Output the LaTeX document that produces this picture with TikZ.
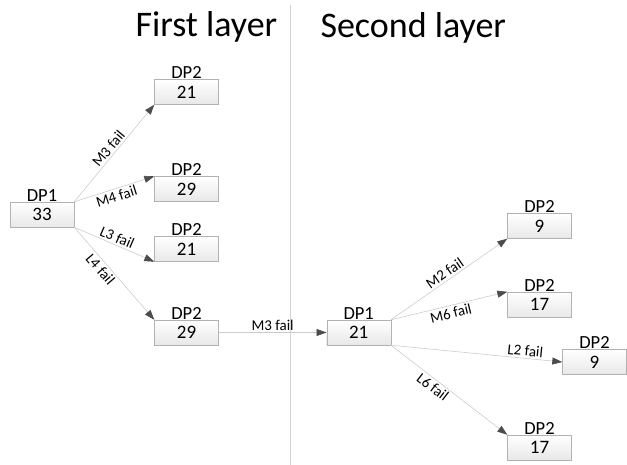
\documentclass[tikz,border=0pt]{standalone}
\usepackage{fontspec}
\setmainfont{Carlito}
\usetikzlibrary{arrows.meta}

\begin{document}
\begin{tikzpicture}[x=1pt,y=-1pt,
  box/.style={draw=gray!60,top color=white,bottom color=gray!18,minimum width=64pt,minimum height=25pt,inner sep=0pt,
    font=\fontsize{19}{21}\selectfont,label={[font=\fontsize{18.5}{21}\selectfont,inner sep=0.5pt]above:#1}},
  link/.style={draw=gray!40,line width=0.6pt,-{Triangle[length=10pt,width=7pt,color=black!70]}},
  fail/.style={font=\fontsize{15}{17}\selectfont,sloped,inner sep=2pt}]
  \useasboundingbox (0,0) rectangle (627,465);
  % titles and divider
  \node[anchor=base west,font=\fontsize{36}{42}\selectfont] (first) at (132,37) {First layer};
  \node[anchor=base west,font=\fontsize{36}{42}\selectfont] (second) at (317,38) {Second layer};
  \coordinate (divtop) at (290,5);
  \coordinate (divbot) at (290,465);
  \draw[gray!35,line width=0.8pt] (divtop) -- (divbot);
  % first layer
  \node[box=DP1] (dpA) at (42,214.5) {33};
  \node[box=DP2] (a1) at (186.5,92) {21};
  \node[box=DP2] (a2) at (186.5,189) {29};
  \node[box=DP2] (a3) at (186.5,249) {21};
  \node[box=DP2] (a4) at (186.5,332.5) {29};
  % second layer
  \node[box=DP1] (dpB) at (358.7,332.5) {21};
  \node[box=DP2] (b1) at (539.5,226) {9};
  \node[box=DP2] (b2) at (539.5,304.5) {17};
  \node[box=DP2] (b3) at (594.5,362) {9};
  \node[box=DP2] (b4) at (539.5,447.5) {17};
  \draw[link] (dpA.north east) -- node[fail,above] {M3 fail} (a1.south west);
  \draw[link] (dpA.north east) -- node[fail,below] {M4 fail} (a2.north west);
  \draw[link] (dpA.south east) -- node[fail,above] {L3 fail} (a3.south west);
  \draw[link] (dpA.south east) -- node[fail,below,pos=0.4] {L4 fail} (a4.north west);
  \draw[link] (a4) -- node[fail,above] {M3 fail} (dpB);
  \draw[link] (dpB.north east) -- node[fail,above] {M2 fail} (b1.south west);
  \draw[link] (dpB.north east) -- node[fail,below] {M6 fail} (b2.north west);
  \draw[link] (dpB.south east) -- node[fail,above,pos=0.78] {L2 fail} (b3.west);
  \draw[link] (dpB.south east) -- node[fail,below,pos=0.4] {L6 fail} (b4.north west);
\end{tikzpicture}
\end{document}
